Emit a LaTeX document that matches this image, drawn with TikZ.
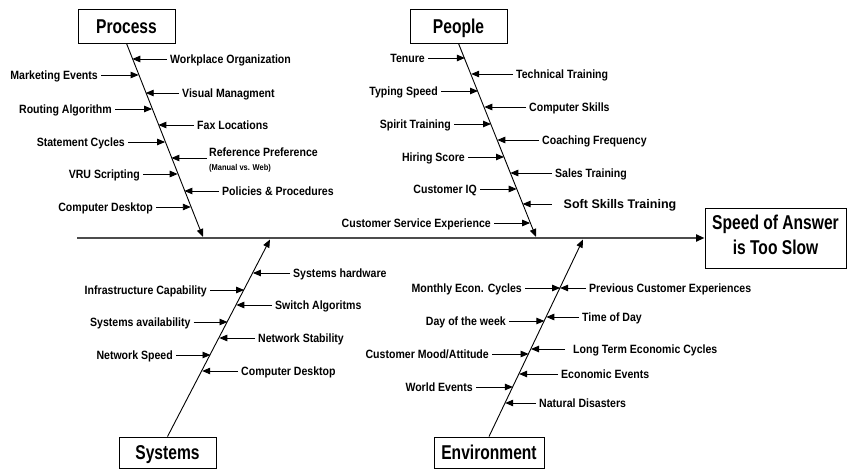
\documentclass[tikz,border=0pt]{standalone}
\usepackage{fontspec}
\setmainfont{Liberation Sans}
\newfontfamily\labfont{Liberation Sans}[FakeStretch=0.88]
\newfontfamily\catfont{Liberation Sans}[FakeStretch=0.78]
\usetikzlibrary{arrows.meta,calc}
\tikzset{
  lab/.style={font=\labfont\bfseries\fontsize{12}{14}\selectfont, inner sep=0pt, text height=8.6pt, text depth=0pt},
  sublab/.style={font=\labfont\bfseries\fontsize{8.5}{10}\selectfont, inner sep=0pt, text height=6.1pt, text depth=0pt},
  softlab/.style={fill=white, inner sep=0pt, minimum width=136pt, minimum height=30pt, font=\bfseries\fontsize{12.5}{14}\selectfont, text height=9pt, text depth=0pt},
  br/.style={line width=0.9pt, -{Triangle[length=8pt,width=6.5pt]}},
  bone/.style={line width=0.9pt, -{Triangle[length=8pt,width=6.5pt]}},
  spine/.style={line width=2pt, draw=black!70, -{Triangle[length=8.5pt,width=7pt,color=black]}},
  catbox/.style={draw, line width=0.9pt, inner sep=0pt, fill=white, font=\catfont\bfseries\fontsize{20}{24}\selectfont, text height=14.3pt, text depth=0pt},
  effbox/.style={draw, line width=0.9pt, inner sep=0pt, fill=white, font=\catfont\bfseries\fontsize{20}{24.5}\selectfont, align=center, minimum width=141pt, minimum height=60pt},
}
\newcommand\lbranch[5]{%
  \node[lab,anchor=east] (#1) at (#3,#4) {#2};
  \coordinate (#1t) at (#5,#4);
  \draw[br] ([xshift=3pt]#1.east) -- (#1t);}
\newcommand\rbranch[5]{%
  \node[lab,anchor=west] (#1) at (#3,#4) {#2};
  \coordinate (#1t) at (#5,#4);
  \draw[br] ([xshift=-3pt]#1.west) -- (#1t);}
\begin{document}
\begin{tikzpicture}[x=1pt,y=-1pt]
\fill[white] (0,0) rectangle (847,470);
\useasboundingbox (0,0) rectangle (847,470);

% category boxes and effect
\node[catbox, minimum width=97pt, minimum height=34pt] (proc) at (126.5,26) {Process};
\node[catbox, minimum width=97pt, minimum height=34pt] (peop) at (458.5,26) {People};
\node[catbox, minimum width=97pt, minimum height=31pt] (syst) at (167.5,452.5) {Systems};
\node[catbox, minimum width=110pt, minimum height=31pt] (envi) at (489,452.5) {Environment};
\node[effbox] (effect) at (775.5,238) {Speed of Answer\\is Too Slow\rule[-6.8pt]{0pt}{6.8pt}};

% spine
\coordinate (sp0) at (77,238);
\draw[spine] (sp0) -- (effect.west);

% bones
\coordinate (pe) at (203,237);
\coordinate (qe) at (536,237);
\coordinate (se) at (270,239.5);
\coordinate (ee) at (583,239.5);
\draw[bone] (proc.south) -- (pe);
\draw[bone] (peop.south) -- (qe);
\draw[bone] (syst.north) -- (se);
\draw[bone] (envi.north) -- (ee);

% Process
\rbranch{p1}{Workplace Organization}{170}{59}{132.3}
\lbranch{p2}{Marketing Events}{98}{75}{138.6}
\rbranch{p3}{Visual Managment}{182}{93}{145.7}
\lbranch{p4}{Routing Algorithm}{112}{109}{152.1}
\rbranch{p5}{Fax Locations}{197}{125}{158.4}
\lbranch{p6}{Statement Cycles}{125}{142}{165.1}
\node[lab,anchor=west] (p7) at (209,152) {Reference Preference};
\node[sublab,anchor=west] (p7s) at (209,167) {(Manual vs. Web)};
\coordinate (p7t) at (171.4,158);
\draw[br] ($(p7t -| p7.west)+(-2pt,0)$) -- (p7t);
\lbranch{p8}{VRU Scripting}{140}{174}{177.7}
\rbranch{p9}{Policies \& Procedures}{222}{191}{184.4}
\lbranch{p10}{Computer Desktop}{153}{207}{190.8}

% People
\lbranch{q1}{Tenure}{425}{58}{464.9}
\rbranch{q2}{Technical Training}{516}{74}{471.2}
\lbranch{q3}{Typing Speed}{438}{91}{478.0}
\rbranch{q4}{Computer Skills}{529}{107}{484.3}
\lbranch{q5}{Spirit Training}{451}{124}{491.0}
\rbranch{q6}{Coaching Frequency}{542}{140}{497.3}
\lbranch{q7}{Hiring Score}{465}{157}{504.0}
\rbranch{q8}{Sales Training}{555}{173}{510.3}
\lbranch{q9}{Customer IQ}{477}{189}{516.7}
\node[softlab] (q10) at (620,204) {Soft Skills Training};
\coordinate (q10t) at (522.6,204);
\draw[br] (q10.west) -- (q10t);
\lbranch{q11}{Customer Service Experience}{491}{223}{530.1}

% Systems
\rbranch{s1}{Systems hardware}{293}{273}{252.9}
\lbranch{s2}{Infrastructure Capability}{207}{290}{244.1}
\rbranch{s3}{Switch Algoritms}{275}{305}{236.3}
\lbranch{s4}{Systems availability}{190.7}{322}{227.5}
\rbranch{s5}{Network Stability}{258}{338}{219.3}
\lbranch{s6}{Network Speed}{173}{355}{210.5}
\rbranch{s7}{Computer Desktop}{241}{371}{202.2}

% Environment
\lbranch{e1}{Monthly Econ. Cycles}{522}{288}{560.1}
\rbranch{e2}{Previous Customer Experiences}{589}{288}{560.1}
\rbranch{e3}{Time of Day}{582}{317}{546.3}
\lbranch{e4}{Day of the week}{506}{321}{544.4}
\node[lab,anchor=west] (e5) at (573,349) {Long Term Economic Cycles};
\coordinate (e5t) at (531,349);
\draw[br] ([xshift=-8pt]e5.west) -- (e5t);
\lbranch{e6}{Customer Mood/Attitude}{489}{354}{528.6}
\rbranch{e7}{Economic Events}{561}{374}{519.1}
\lbranch{e8}{World Events}{473}{387}{512.9}
\rbranch{e9}{Natural Disasters}{539}{403}{505.2}
\end{tikzpicture}
\end{document}
